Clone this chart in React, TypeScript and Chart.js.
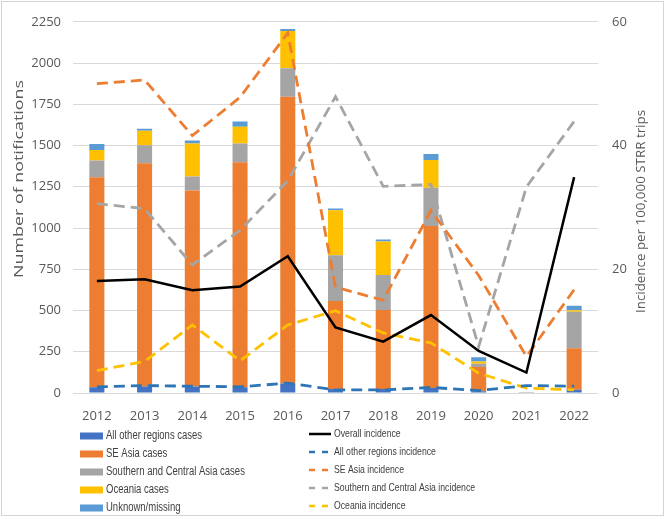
import React, { useEffect, useRef } from "react";
import { Chart, registerables } from "chart.js";

Chart.register(...registerables);

// ---- Data ----
const years = ["2012", "2013", "2014", "2015", "2016", "2017", "2018", "2019", "2020", "2021", "2022"];

// Cases (left axis, stacked bars)
const otherRegionsCases = [35, 40, 40, 35, 58, 25, 25, 30, 10, 0, 20];
const seAsiaCases = [1273, 1353, 1188, 1364, 1737, 532, 478, 982, 147, 0, 252];
const scAsiaCases = [101, 108, 84, 114, 174, 278, 213, 232, 20, 6, 221];
const oceaniaCases = [64, 89, 201, 101, 225, 272, 202, 169, 14, 0, 8];
const unknownCases = [37, 12, 17, 32, 12, 12, 12, 36, 26, 0, 28];

// Incidence per 100,000 STRR trips (right axis, lines)
const overallIncidence = [18.1, 18.4, 16.6, 17.2, 22.1, 10.6, 8.3, 12.6, 6.8, 3.3, 34.9];
const otherRegionsIncidence = [1.0, 1.2, 1.1, 1.0, 1.6, 0.5, 0.5, 0.9, 0.4, 1.2, 1.1];
const seAsiaIncidence = [50.0, 50.6, 41.6, 47.8, 58.2, 17.1, 15.0, 29.5, 19.0, 5.9, 16.7];
const scAsiaIncidence = [30.6, 29.8, 20.7, 26.3, 34.3, 47.9, 33.4, 33.7, 7.5, 33.3, 43.9];
const oceaniaIncidence = [3.6, 5.1, 11.0, 5.2, 11.0, 13.3, 9.7, 8.1, 3.2, 0.8, 0.5];

const leftTicksMax = 2250;
const leftTickStep = 250;
const rightTicksMax = 60;
const rightTickStep = 20;

const leftAxisTitle = "Number of notifications";
const rightAxisTitle = "Incidence per 100,000 STRR trips";

const C_DARKBLUE = "#4472C4";
const C_ORANGE = "#ED7D31";
const C_GRAY = "#A5A5A5";
const C_YELLOW = "#FFC000";
const C_LIGHTBLUE = "#5B9BD5";
const C_LINEBLUE = "#2E75B6";
const TEXT = "#595959";

function drawRotatedTitle(ctx: CanvasRenderingContext2D, text: string, cx: number, cy: number, len: number) {
  ctx.save();
  ctx.translate(cx, cy);
  ctx.rotate(-Math.PI / 2);
  ctx.font = '13px "Open Sans"';
  const w = ctx.measureText(text).width;
  ctx.scale(len / w, 1);
  ctx.textAlign = "center";
  ctx.textBaseline = "middle";
  ctx.fillStyle = TEXT;
  ctx.fillText(text, 0, 0);
  ctx.restore();
}

function drawNarrowText(ctx: CanvasRenderingContext2D, text: string, x: number, y: number, size: number, sx: number) {
  ctx.save();
  ctx.translate(x, y);
  ctx.scale(sx, 1);
  ctx.font = `${size}px "Liberation Sans", Arial, sans-serif`;
  ctx.textAlign = "left";
  ctx.textBaseline = "middle";
  ctx.fillStyle = "#404040";
  ctx.fillText(text, 0, 0);
  ctx.restore();
}

const decorPlugin = {
  id: "decor",
  beforeDraw(chart: any) {
    const ctx = chart.ctx as CanvasRenderingContext2D;
    ctx.save();
    ctx.fillStyle = "#ffffff";
    ctx.fillRect(0, 0, chart.width, chart.height);
    ctx.strokeStyle = "#d4d4d4";
    ctx.lineWidth = 1;
    ctx.strokeRect(1.5, 1.5, 662, 514);
    ctx.restore();
  },
  afterDraw(chart: any) {
    const ctx = chart.ctx as CanvasRenderingContext2D;
    drawRotatedTitle(ctx, leftAxisTitle, 19, 179, 198);
    drawRotatedTitle(ctx, rightAxisTitle, 641.5, 211.5, 203);

    const ds = chart.data.datasets as any[];
    const bars = ds.filter((d) => d.type === "bar");
    const lines = ds.filter((d) => d.type === "line");

    // Left column (bars)
    bars.forEach((d, i) => {
      const y = 436 + i * 18;
      ctx.save();
      ctx.fillStyle = d.backgroundColor;
      ctx.fillRect(80, y - 3.5, 23, 7);
      ctx.restore();
      drawNarrowText(ctx, d.label, 106, y, 12.5, 0.76);
    });

    // Right column (lines)
    lines.forEach((d, i) => {
      const y = 434 + i * 18;
      ctx.save();
      ctx.strokeStyle = d.borderColor;
      ctx.lineWidth = 2.5;
      ctx.setLineDash(d.borderDash && d.borderDash.length ? [6, 7] : []);
      ctx.beginPath();
      ctx.moveTo(309, y);
      ctx.lineTo(331, y);
      ctx.stroke();
      ctx.restore();
      drawNarrowText(ctx, d.label, 334, y, 11, 0.79);
    });
  },
};

export default function App() {
  const ref = useRef<HTMLCanvasElement>(null);

  useEffect(() => {
    const canvas = ref.current;
    if (!canvas) return;

    const barDs = (label: string, data: number[], color: string) => ({
      type: "bar" as const,
      label,
      data,
      backgroundColor: color,
      borderWidth: 0,
      yAxisID: "y",
      stack: "cases",
      order: 3,
      barPercentage: 0.315,
      categoryPercentage: 1,
    });
    const lineDs = (label: string, data: number[], color: string, dashed: boolean, order: number) => ({
      type: "line" as const,
      label,
      data,
      borderColor: color,
      backgroundColor: color,
      borderWidth: dashed ? 2.8 : 2.5,
      borderDash: dashed ? [11, 6] : [],
      pointRadius: 0,
      tension: 0,
      fill: false,
      yAxisID: "y1",
      order,
    });

    const chart = new Chart(canvas, {
      type: "bar",
      data: {
        labels: years,
        datasets: [
          barDs("All other regions cases", otherRegionsCases, C_DARKBLUE),
          barDs("SE Asia cases", seAsiaCases, C_ORANGE),
          barDs("Southern and Central Asia cases", scAsiaCases, C_GRAY),
          barDs("Oceania cases", oceaniaCases, C_YELLOW),
          barDs("Unknown/missing", unknownCases, C_LIGHTBLUE),
          lineDs("Overall incidence", overallIncidence, "#000000", false, 0),
          lineDs("All other regions incidence", otherRegionsIncidence, C_LINEBLUE, true, 1),
          lineDs("SE Asia incidence", seAsiaIncidence, C_ORANGE, true, 1),
          lineDs("Southern and Central Asia incidence", scAsiaIncidence, C_GRAY, true, 1),
          lineDs("Oceania incidence", oceaniaIncidence, C_YELLOW, true, 1),
        ] as any,
      },
      options: {
        responsive: false,
        animation: false,
        devicePixelRatio: 1,
        layout: { padding: { top: 20, bottom: 96, left: 0, right: 0 } },
        plugins: {
          legend: { display: false },
          tooltip: { enabled: false },
          title: { display: false },
        },
        scales: {
          x: {
            stacked: true,
            grid: { display: false },
            border: { display: false },
            ticks: {
              color: TEXT,
              font: { family: '"Open Sans"', size: 13 },
              padding: 7,
              maxRotation: 0,
            },
            afterFit: (s: any) => {
              s.height = 30;
            },
          },
          y: {
            type: "linear",
            position: "left",
            stacked: true,
            min: 0,
            max: leftTicksMax,
            grid: { color: "#d9d9d9", lineWidth: 1, drawTicks: false },
            border: { display: false },
            ticks: {
              stepSize: leftTickStep,
              color: TEXT,
              font: { family: '"Open Sans"', size: 13 },
              padding: 12,
              callback: (v: any) => String(v),
            },
            afterFit: (s: any) => {
              s.width = 73;
            },
          },
          y1: {
            type: "linear",
            position: "right",
            stacked: false,
            min: 0,
            max: rightTicksMax,
            grid: { display: false, drawTicks: false },
            border: { display: false },
            ticks: {
              stepSize: rightTickStep,
              color: TEXT,
              font: { family: '"Open Sans"', size: 13 },
              padding: 14,
              callback: (v: any) => String(v),
            },
            afterFit: (s: any) => {
              s.width = 68;
            },
          },
        },
      } as any,
      plugins: [decorPlugin],
    });

    return () => chart.destroy();
  }, []);

  return (
    <div style={{ position: "absolute", left: 0, top: 0, width: 666, height: 519 }}>
      <canvas ref={ref} width={666} height={519} style={{ display: "block", width: 666, height: 519 }} />
    </div>
  );
}
